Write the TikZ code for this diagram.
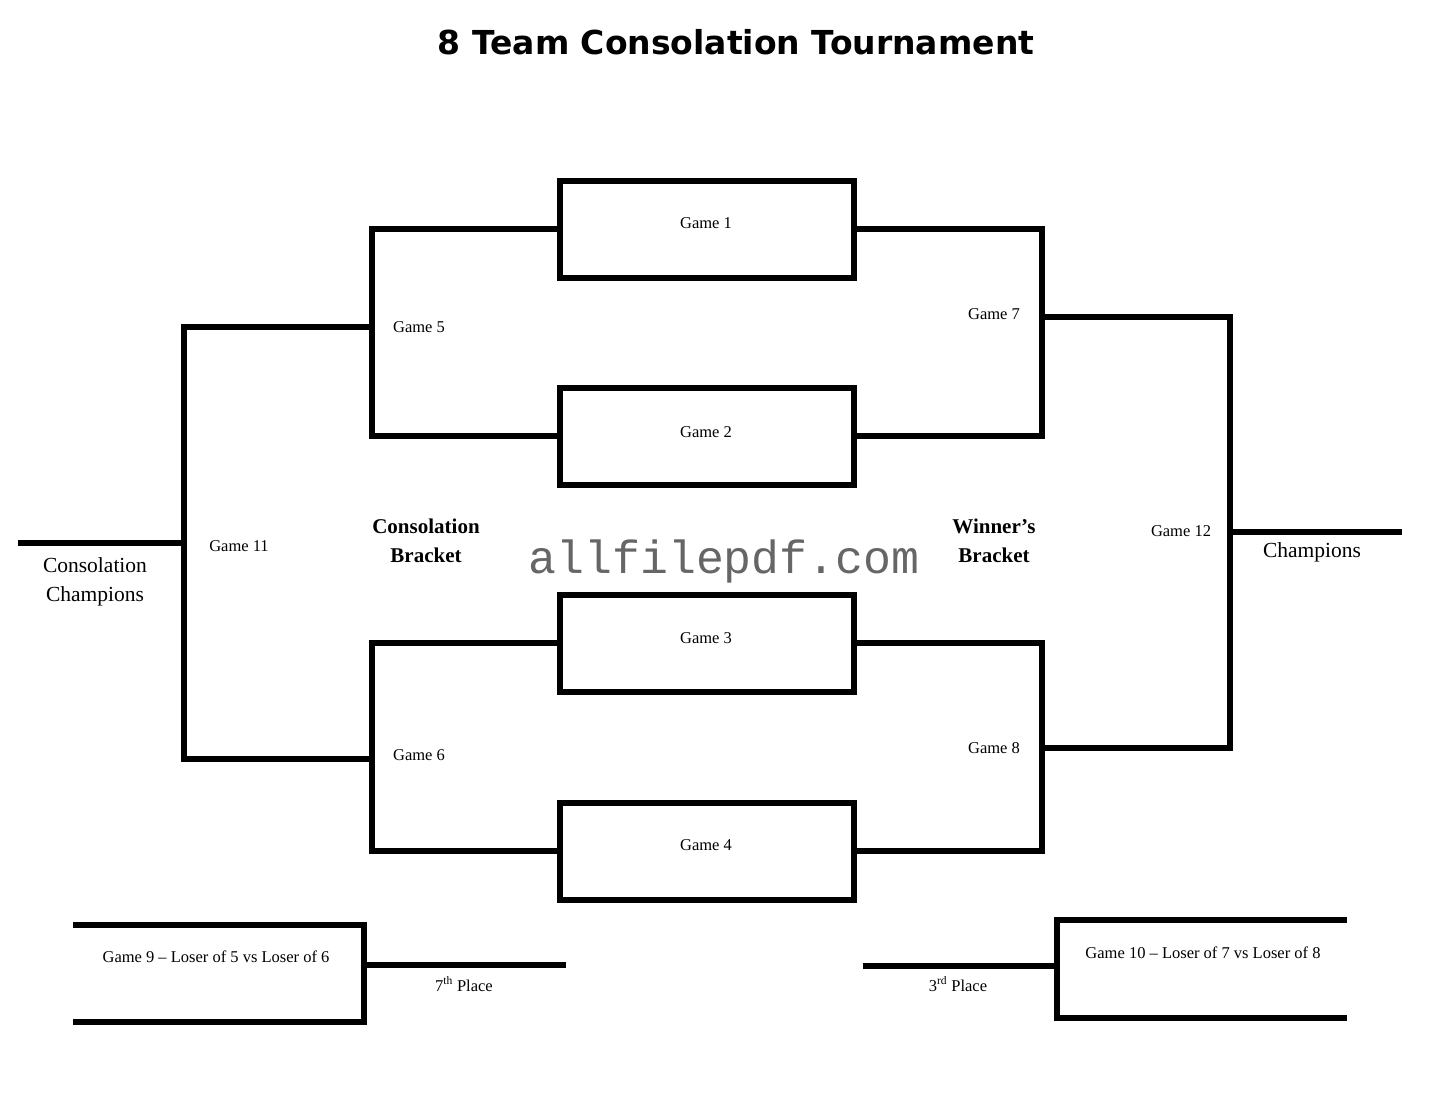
\documentclass[tikz,border=0pt]{standalone}
\usepackage{fontspec}
\setmainfont{Liberation Serif}
\newfontfamily\titlefont{DejaVu Sans}
\newfontfamily\wmfont{Liberation Mono}
\begin{document}
\begin{tikzpicture}[x=1pt,y=-1pt,
  ln/.style={line width=6pt,line join=miter},
  gamebox/.style={draw,line width=6pt,minimum width=294pt,minimum height=97pt,inner sep=0pt},
  glabel/.style={font=\fontsize{16.5}{19}\selectfont,inner sep=0pt},
  big/.style={font=\fontsize{21.5}{29}\selectfont,align=center,inner sep=0pt},
  bigb/.style={font=\fontsize{21}{29}\selectfont\bfseries,align=center,inner sep=0pt}]
\useasboundingbox (0,0) rectangle (1446,1117);
% title
\node (title) at (736,42) {\titlefont\bfseries\fontsize{33}{38}\selectfont 8 Team Consolation Tournament};
% first-round boxes
\node[gamebox] (g1) at (707,229) {};
\node[gamebox] (g2) at (707,436) {};
\node[gamebox] (g3) at (707,643) {};
\node[gamebox] (g4) at (707,851) {};
\node[glabel] (t1) at (706,223) {Game 1};
\node[glabel] (t2) at (706,432) {Game 2};
\node[glabel] (t3) at (706,638) {Game 3};
\node[glabel] (t4) at (706,845) {Game 4};
% bracket coordinates
\coordinate (c5) at (372,327);
\coordinate (c6) at (372,759);
\coordinate (c7) at (1042,317);
\coordinate (c8) at (1042,748);
\coordinate (c11) at (184,543);
\coordinate (c12) at (1230,532);
\coordinate (e11) at (18,543);
\coordinate (e12) at (1402,532);
% game 5 and 6 (consolation)
\draw[ln] (g1.west) -| (c5) |- (g2.west);
\draw[ln] (g3.west) -| (c6) |- (g4.west);
% game 7 and 8 (winners)
\draw[ln] (g1.east) -| (c7) |- (g2.east);
\draw[ln] (g3.east) -| (c8) |- (g4.east);
% game 11
\draw[ln] (c5) -| (c11) |- (c6);
\draw[ln] (c11) -- (e11);
% game 12
\draw[ln] (c7) -| (c12) |- (c8);
\draw[ln] (c12) -- (e12);
% labels
\node[glabel] (t5) at (419,327) {Game 5};
\node[glabel] (t6) at (419,755) {Game 6};
\node[glabel] (t7) at (994,314) {Game 7};
\node[glabel] (t8) at (994,748) {Game 8};
\node[glabel] (t11) at (239,546) {Game 11};
\node[glabel] (t12) at (1181,531) {Game 12};
\node[bigb] (cb) at (426,541) {Consolation\\Bracket};
\node[bigb] (wb) at (994,541) {Winner’s\\Bracket};
\node[big] (cc) at (95,582) {Consolation\\Champions};
\node[big] (ch) at (1312,552) {Champions};
\node[text=black!60,inner sep=0pt] (wm) at (724,561) {\wmfont\fontsize{46.5}{50}\selectfont allfilepdf.com};
% game 9
\coordinate (g9a) at (73,925);
\coordinate (g9b) at (364,925);
\coordinate (g9c) at (364,1022);
\coordinate (g9d) at (73,1022);
\coordinate (g9m) at (364,965);
\coordinate (g9e) at (566,965);
\draw[ln] (g9a) -- (g9b) -- (g9c) -- (g9d);
\draw[ln] (g9m) -- (g9e);
\node[glabel] (t9) at (216,957) {Game 9 – Loser of 5 vs Loser of 6};
\node[glabel] (p7) at (464,984) {7\textsuperscript{th} Place};
% game 10
\coordinate (g10a) at (1347,920);
\coordinate (g10b) at (1057,920);
\coordinate (g10c) at (1057,1018);
\coordinate (g10d) at (1347,1018);
\coordinate (g10m) at (1057,966);
\coordinate (g10e) at (863,966);
\draw[ln] (g10a) -- (g10b) -- (g10c) -- (g10d);
\draw[ln] (g10m) -- (g10e);
\node[glabel] (t10) at (1203,953) {Game 10 – Loser of 7 vs Loser of 8};
\node[glabel] (p3) at (958,984) {3\textsuperscript{rd} Place};
\end{tikzpicture}
\end{document}
